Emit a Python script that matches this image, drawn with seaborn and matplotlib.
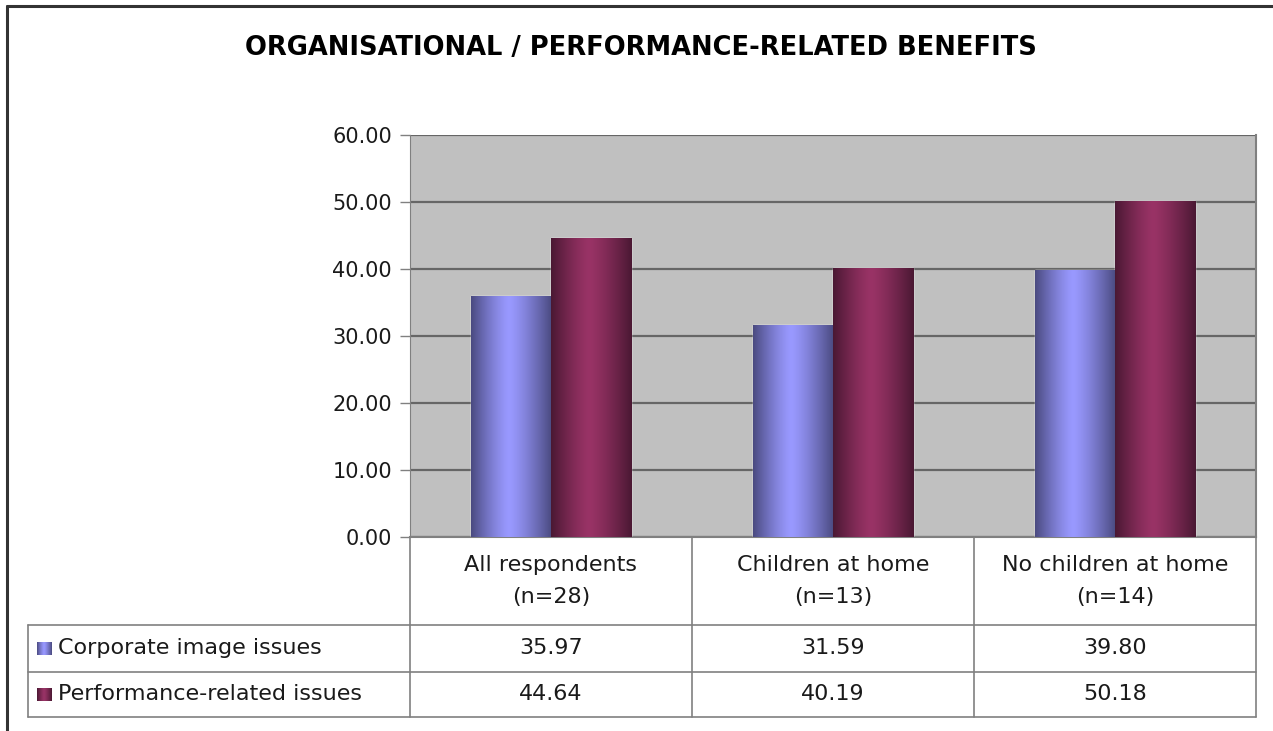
import numpy as np
import pandas as pd
import matplotlib.pyplot as plt
import seaborn as sns
from matplotlib.lines import Line2D
from matplotlib.colors import LinearSegmentedColormap

# Data
categories = ["All respondents\n(n=28)", "Children at home\n(n=13)", "No children at home\n(n=14)"]
series_names = ["Corporate image issues", "Performance-related issues"]
corporate = [35.97, 31.59, 39.80]
performance = [44.64, 40.19, 50.18]
yticks = [0, 10, 20, 30, 40, 50, 60]

df = pd.DataFrame({
    "Category": categories * 2,
    "Series": [series_names[0]] * 3 + [series_names[1]] * 3,
    "Value": corporate + performance,
})

sns.set_style("white")
plt.rcParams["font.family"] = ["DejaVu Sans"]

W, H = 1273, 731
fig = plt.figure(figsize=(W / 100, H / 100), dpi=100)

# plot area in pixel coords
px_l, px_r, px_t, px_b = 410, 1256, 135, 537
ax = fig.add_axes([px_l / W, 1 - px_b / H, (px_r - px_l) / W, (px_b - px_t) / H])
ax.set_facecolor("#C0C0C0")

colors = ["#9999FF", "#993366"]
darks = ["#4A4A80", "#4A1833"]
sns.barplot(data=df, x="Category", y="Value", hue="Series", palette=colors,
            width=0.57, ax=ax, legend=False, zorder=3)

# cylinder-like shading: dark edges, light band a bit left of centre
t = np.linspace(0, 1, 256)
peak = 0.47
grad = np.where(t < peak, (peak - t) / peak, (t - peak) / (1 - peak)) ** 1.3
cmaps = [LinearSegmentedColormap.from_list(f"c{i}", [colors[i], darks[i]]) for i in range(2)]
for i, p in enumerate(ax.patches):
    k = 0 if i < 3 else 1
    x0, y0 = p.get_x(), p.get_y()
    w, h = p.get_width(), p.get_height()
    if h <= 0:
        continue
    im = ax.imshow(grad[np.newaxis, :], cmap=cmaps[k], aspect="auto",
                   extent=[x0, x0 + w, y0, y0 + h], zorder=3.5, vmin=0, vmax=1)
    im.set_clip_path(p)

ax.set_xlim(-0.5, 2.5)
ax.set_ylim(0, 60)
ax.set_yticks(yticks)
ax.set_yticklabels([f"{v:.2f}" for v in yticks], fontsize=15, color="#1a1a1a")
ax.yaxis.grid(True, color="#666666", linewidth=1.6, zorder=0)
ax.set_axisbelow(True)
ax.tick_params(axis="y", length=7, width=1, color="#808080", left=True, pad=6)
ax.set_xticks([])
ax.set_xlabel("")
ax.set_ylabel("")
ax.spines["top"].set_visible(False)
ax.spines["left"].set_color("#808080")
for s in ["right", "bottom"]:
    ax.spines[s].set_color("#808080")
    ax.spines[s].set_linewidth(1.5)

# helpers in pixel coordinates
def hline(x0, x1, y, c="#808080", lw=1.2):
    fig.add_artist(Line2D([x0 / W, x1 / W], [1 - y / H, 1 - y / H], color=c, lw=lw))

def vline(x, y0, y1, c="#808080", lw=1.2):
    fig.add_artist(Line2D([x / W, x / W], [1 - y0 / H, 1 - y1 / H], color=c, lw=lw))

def txt(x, y, s, **kw):
    fig.text(x / W, 1 - y / H, s, **kw)

# outer frame
hline(7, W, 6, c="#333333", lw=2.2)
vline(7, 6, H, c="#333333", lw=2.2)

# data table
cols = [410, 692, 974, 1256]
row_y = [537, 625, 672, 717]
hline(28, 1256, 625)
hline(28, 1256, 672)
hline(28, 1256, 717)
vline(28, 625, 717)
for x in cols:
    vline(x, 537, 717)

for j, c in enumerate(categories):
    cx = (cols[j] + cols[j + 1]) / 2
    txt(cx, 581, c, ha="center", va="center", fontsize=16, color="#1a1a1a",
        linespacing=1.75)

rows = [corporate, performance]
for r, vals in enumerate(rows):
    cy = (row_y[r + 1] + row_y[r + 2]) / 2
    # legend key with the same shading
    kax = fig.add_axes([37 / W, 1 - (cy + 7) / H, 14 / W, 14 / H])
    kax.imshow(grad[np.newaxis, :], cmap=cmaps[r], aspect="auto", vmin=0, vmax=1)
    kax.axis("off")
    txt(58, cy, series_names[r], ha="left", va="center", fontsize=16, color="#1a1a1a")
    for j, v in enumerate(vals):
        cx = (cols[j] + cols[j + 1]) / 2
        txt(cx, cy, f"{v:.2f}", ha="center", va="center", fontsize=16, color="#1a1a1a")

txt(641, 48, "ORGANISATIONAL / PERFORMANCE-RELATED BENEFITS", ha="center", va="center",
    fontsize=18.5, fontweight="bold", color="#000000")

fig.savefig("out.png", dpi=100, facecolor="white")
